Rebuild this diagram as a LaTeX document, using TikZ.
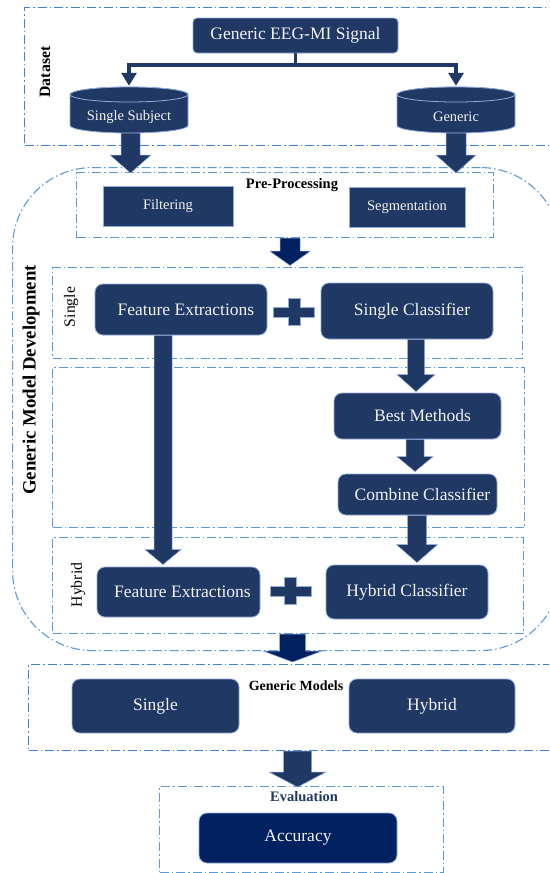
\documentclass[tikz,border=0pt]{standalone}
\usepackage{fontspec}
\setmainfont{Liberation Serif}
\usetikzlibrary{arrows.meta,calc}
\definecolor{boxfill}{HTML}{203864}
\definecolor{darkfill}{HTML}{002060}
\definecolor{boxedge}{HTML}{8FAADC}
\definecolor{dashblue}{HTML}{5B9BD5}
\definecolor{dashblueB}{HTML}{3A87D0}
\definecolor{boxtext}{HTML}{F2F2F2}
\tikzset{
  dashbox/.style={draw=#1, line width=1.1pt, dash pattern=on 9pt off 3pt on 1.5pt off 3pt, inner sep=0pt, anchor=north west},
  dashbox/.default=dashblue,
  rbox/.style={rectangle, rounded corners=8pt, fill=boxfill, draw=boxedge, line width=0.8pt, text=boxtext, inner sep=0pt, font=\rmfamily\fontsize{17.5}{20}\selectfont},
  sbox/.style={rectangle, fill=boxfill, draw=boxedge, line width=0.8pt, text=boxtext, inner sep=0pt, font=\rmfamily\fontsize{14.5}{17}\selectfont},
  conn/.style={draw=boxfill, line width=3.5pt, line join=miter, -{Triangle[width=15pt,length=13pt]}},
  grouplabel/.style={font=\rmfamily\bfseries\fontsize{14.5}{17}\selectfont, inner sep=0pt},
  sidelabel/.style={font=\rmfamily\fontsize{15.7}{18}\selectfont, inner sep=0pt, rotate=90},
}
\newcommand\blockarr[6][boxfill]{%
  \filldraw[fill=#1, draw=boxedge, line width=0.5pt]
   let \p1=(#2), \p2=(#3) in
   (\x1-#4pt,\y1) -- (\x1+#4pt,\y1) -- (\x1+#4pt,\y2+#6pt) -- (\x1+#5pt,\y2+#6pt)
   -- (\x1,\y2) -- (\x1-#5pt,\y2+#6pt) -- (\x1-#4pt,\y2+#6pt) -- cycle;}
\newcommand\cylnode[3]{%
  \node[minimum width=118pt, minimum height=46pt, inner sep=0pt] (#1) at (#2,110) {};
  \filldraw[fill=boxfill, draw=boxedge, line width=0.8pt]
    (#2-59,94.5) -- (#2-59,125.5) arc[start angle=180,end angle=0,x radius=59,y radius=7.5]
    -- (#2+59,94.5) arc[start angle=0,end angle=-180,x radius=59,y radius=7.5] -- cycle;
  \filldraw[fill=boxfill, draw=boxedge, line width=0.8pt] (#2,94.5) ellipse[x radius=59, y radius=7.5];
  \node[text=boxtext, font=\rmfamily\fontsize{14.5}{17}\selectfont, inner sep=0pt] (#1t) at (#2,117) {#3};}
\tikzset{plus/.pic={
  \filldraw[fill=boxfill, draw=boxedge, line width=0.6pt]
   (-20.5,-5) -- (-6,-5) -- (-6,-13.5) -- (6,-13.5) -- (6,-5) -- (20.5,-5) -- (20.5,5)
   -- (6,5) -- (6,13.5) -- (-6,13.5) -- (-6,5) -- (-20.5,5) -- cycle;}}
\begin{document}
\begin{tikzpicture}[x=1pt,y=-1pt]
\useasboundingbox (0,0) rectangle (549,873);
\fill[white] (0,0) rectangle (549,873);
\clip (0,0) rectangle (549,873);

% containers
\node[dashbox=dashblueB, minimum width=536pt, minimum height=138pt] (dsbox) at (24,7) {};
\node[dashbox, rounded corners=80pt, minimum width=548pt, minimum height=483pt] (gmdbox) at (12,167) {};
\node[dashbox, minimum width=417pt, minimum height=65pt] (prebox) at (76,172) {};
\node[dashbox, minimum width=470pt, minimum height=91pt] (singlebox) at (52,267) {};
\node[dashbox, minimum width=472pt, minimum height=160pt] (midbox) at (52,367) {};
\node[dashbox, minimum width=471pt, minimum height=96pt] (hybridbox) at (52,537) {};
\node[dashbox=dashblueB, minimum width=532pt, minimum height=86pt] (gmbox) at (28,664) {};
\node[dashbox, minimum width=284pt, minimum height=86pt] (evalbox) at (159,786) {};

% labels
\node[font=\rmfamily\bfseries\fontsize{15.8}{18}\selectfont, rotate=90, inner sep=0pt] (dslabel) at (45,72) {Dataset};
\node[font=\rmfamily\bfseries\fontsize{18.8}{22}\selectfont, rotate=90, inner sep=0pt] (gmdlabel) at (31,380) {Generic Model Development};
\node[grouplabel] (prelabel) at (292,185) {Pre-Processing};
\node[sidelabel] (singlelabel) at (71,307) {Single};
\node[sidelabel] (hybridlabel) at (78,585) {Hybrid};
\node[grouplabel, font=\rmfamily\bfseries\fontsize{14}{17}\selectfont] (gmlabel) at (296,686) {Generic Models};
\node[grouplabel, text=boxfill] (evallabel) at (304,797) {Evaluation};

% dataset
\node[rbox, rounded corners=4pt, minimum width=205pt, minimum height=35pt] (eeg) at (295.5,35.5) {Generic EEG-MI Signal};
\cylnode{cyl1}{129}{Single Subject}
\cylnode{cyl2}{456}{Generic}
\coordinate (split) at (295.5,65);
\draw[conn] (eeg.south) -- (split) -| ([yshift=1pt]cyl1.north);
\draw[conn] (split) -| ([yshift=1pt]cyl2.north);

% pre-processing
\node[sbox, minimum width=130pt, minimum height=40pt] (filt) at (168,206) {Filtering};
\node[sbox, minimum width=116pt, minimum height=40pt] (seg) at (407,207) {Segmentation};

% development
\node[rbox, minimum width=172pt, minimum height=51pt] (fe1) at (181,309.5) {\hspace{10pt}Feature Extractions};
\node[rbox, minimum width=172pt, minimum height=56pt] (sc) at (407,311) {\hspace{10pt}Single Classifier};
\node[rbox, minimum width=167pt, minimum height=46pt] (bm) at (417.5,416) {\hspace{10pt}Best Methods};
\node[rbox, minimum width=159pt, minimum height=41pt] (cc) at (417.5,494.5) {\hspace{10pt}Combine Classifier};
\node[rbox, minimum width=163pt, minimum height=50pt] (fe2) at (178.5,592) {\hspace{8pt}Feature Extractions};
\node[rbox, minimum width=162pt, minimum height=54pt] (hc) at (407,592) {Hybrid Classifier};
\pic at (294,312) {plus};
\pic at (290.5,591) {plus};

% generic models & evaluation
\node[rbox, minimum width=167pt, minimum height=54pt] (gms) at (155.5,706) {Single};
\node[rbox, minimum width=166pt, minimum height=54pt] (gmh) at (432,706) {Hybrid};
\node[rbox, fill=darkfill, minimum width=198pt, minimum height=50pt] (acc) at (298,838) {Accuracy};

% block arrows
\blockarr{[xshift=1.5pt]cyl1.south}{[yshift=-1pt]prebox.north}{9.5}{20.5}{18}
\blockarr{cyl2.south}{[yshift=-1pt]prebox.north}{10}{20}{18}
\blockarr[darkfill]{[xshift=5pt]prebox.south}{[yshift=1.5pt]singlebox.north}{10}{20.5}{14.5}
\blockarr{[xshift=-18pt]fe1.south}{[yshift=2pt]fe2.north}{9}{18}{15}
\blockarr{[xshift=9pt]sc.south}{[yshift=1pt]bm.north}{8.5}{19}{17}
\blockarr{[xshift=-2.5pt]bm.south}{[yshift=2pt]cc.north}{9}{18}{15}
\blockarr{[xshift=-0.5pt]cc.south}{[yshift=2pt]hc.north}{9.5}{20.5}{18}
\blockarr[darkfill]{[xshift=4.5pt]hybridbox.south}{[yshift=2pt]gmbox.north}{13}{29.5}{11}
\blockarr{[xshift=3pt]gmbox.south}{[yshift=-1pt]evalbox.north}{14}{28.5}{15}
\end{tikzpicture}
\end{document}
